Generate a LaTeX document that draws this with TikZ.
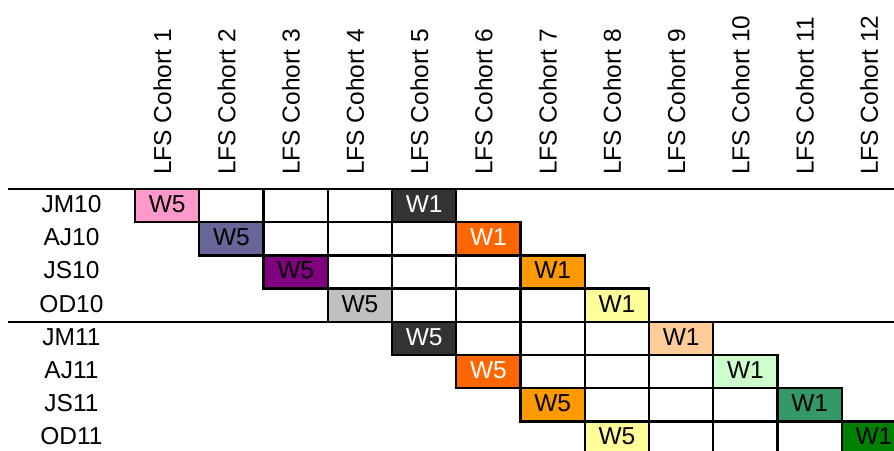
\documentclass[tikz,border=0pt]{standalone}
\usepackage{fontspec}
\setmainfont{Liberation Sans}
\usetikzlibrary{calc}

\definecolor{coh1}{HTML}{FF99CC}
\definecolor{coh2}{HTML}{666699}
\definecolor{coh3}{HTML}{800080}
\definecolor{coh4}{HTML}{C0C0C0}
\definecolor{coh5}{HTML}{333333}
\definecolor{coh6}{HTML}{FF6600}
\definecolor{coh7}{HTML}{FF9900}
\definecolor{coh8}{HTML}{FFFF99}
\definecolor{coh9}{HTML}{FFCC99}
\definecolor{coh10}{HTML}{CCFFCC}
\definecolor{coh11}{HTML}{339966}
\definecolor{coh12}{HTML}{008000}

\begin{document}
\begin{tikzpicture}[x=1pt, y=-1pt]
\def\cw{64.25}
\def\rh{33.2}
\def\xo{135}
\def\yo{189}
%styles des noeuds
\tikzstyle{cohortText}=[rotate=90, anchor=base west, inner sep=0pt, font=\fontsize{24.5}{28}\selectfont]
\tikzstyle{rowText}=[inner sep=0pt, font=\fontsize{24.5}{28}\selectfont]
\tikzstyle{cell}=[draw=black, line width=2.3pt]
\tikzstyle{rule}=[black, line width=2.3pt]
% wave cell: column, row, fill, text colour, label, name
\def\wcell#1#2#3#4#5#6{%
  \fill[#3] ({\xo+(#1-1)*\cw},{\yo+#2*\rh}) rectangle +(\cw,\rh);
  \node[rowText, text=#4] (#6) at ({\xo+(#1-0.5)*\cw},{\yo+(#2+0.5)*\rh-1.5}) {#5};}

\clip (0,0) rectangle (894,450);

%coloured waves
\wcell{1}{0}{coh1}{black}{W5}{w5a}
\wcell{5}{0}{coh5}{white}{W1}{w1a}
\wcell{2}{1}{coh2}{black}{W5}{w5b}
\wcell{6}{1}{coh6}{white}{W1}{w1b}
\wcell{3}{2}{coh3}{black}{W5}{w5c}
\wcell{7}{2}{coh7}{black}{W1}{w1c}
\wcell{4}{3}{coh4}{black}{W5}{w5d}
\wcell{8}{3}{coh8}{black}{W1}{w1d}
\wcell{5}{4}{coh5}{white}{W5}{w5e}
\wcell{9}{4}{coh9}{black}{W1}{w1e}
\wcell{6}{5}{coh6}{white}{W5}{w5f}
\wcell{10}{5}{coh10}{black}{W1}{w1f}
\wcell{7}{6}{coh7}{black}{W5}{w5g}
\wcell{11}{6}{coh11}{black}{W1}{w1g}
\wcell{8}{7}{coh8}{black}{W5}{w5h}
\wcell{12}{7}{coh12}{black}{W1}{w1h}

%grid
\foreach \r in {0,...,7}
  \foreach \c in {1,...,5}
    \draw[cell] ({\xo+(\r+\c-1)*\cw},{\yo+\r*\rh}) rectangle +(\cw,\rh);

%rules
\draw[rule] (8,\yo) -- (906,\yo);
\draw[rule] (8,{\yo+4*\rh}) -- (906,{\yo+4*\rh});

%headers
\foreach \i in {1,...,12}
  \node[cohortText] (h\i) at ({\xo+(\i-0.5)*\cw+4},175) {LFS Cohort \i};

%row labels
\foreach \lbl/\nm [count=\r from 0] in {JM10/jm10, AJ10/aj10, JS10/js10, OD10/od10, JM11/jm11, AJ11/aj11, JS11/js11, OD11/od11}
  \node[rowText] (\nm) at (71.5,{\yo+(\r+0.5)*\rh-1.5}) {\lbl};
\end{tikzpicture}
\end{document}
